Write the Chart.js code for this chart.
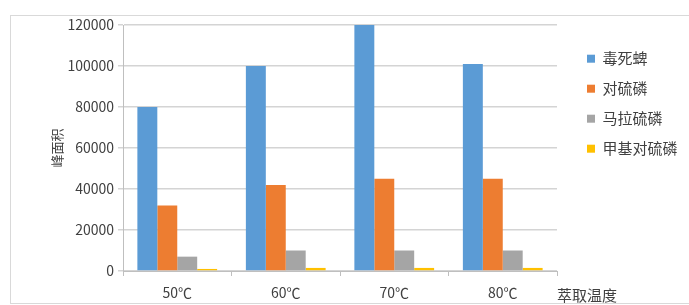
<!DOCTYPE html>
<html lang="zh">
<head>
    <meta charset="UTF-8">
    <title>萃取温度与峰面积</title>
    <script src="https://cdn.jsdelivr.net/npm/chart.js"></script>
    <style>
        body { margin: 0; background: #fff; }
        #wrap { position: relative; width: 689px; height: 305px; overflow: hidden; }
        #frame { position: absolute; left: 10px; top: 15px; width: 700px; height: 287px; border: 1px solid #d9d9d9; }
        canvas { position: absolute; left: 0; top: 0; }
    </style>
</head>
<body>
<div id="wrap">
    <div id="frame"></div>
    <canvas id="chart" width="689" height="305"></canvas>
</div>
<script>
    // data
    const temps = ['50℃', '60℃', '70℃', '80℃'];
    const seriesNames = ['毒死蜱', '对硫磷', '马拉硫磷', '甲基对硫磷'];
    const chlorpyrifos = [80000, 100000, 120000, 101000];
    const parathion = [32000, 42000, 45000, 45000];
    const malathion = [7000, 10000, 10000, 10000];
    const methylParathion = [1000, 1500, 1500, 1500];
    const colors = ['#5B9BD5', '#ED7D31', '#A5A5A5', '#FFC000'];

    const font = "'Noto Sans CJK SC', 'Noto Sans', sans-serif";
    const textColor = '#404040';
    Chart.defaults.font.family = font;
    Chart.defaults.color = textColor;

    // legend: fixed width, nudged right a bit so the boxes sit where Excel put them
    const legendFix = {
        id: 'legendFix',
        beforeInit(chart) {
            const fit = chart.legend.fit;
            chart.legend.fit = function () {
                fit.bind(chart.legend)();
                this.width = 132;
            };
        },
        afterLayout(chart) {
            chart.legend.left += 15;
            chart.legend.right += 15;
        }
    };

    // x axis title sits to the right of the axis end
    const xTitle = {
        id: 'xTitle',
        afterDraw(chart) {
            const ctx = chart.ctx;
            const area = chart.chartArea;
            ctx.save();
            ctx.font = '15px ' + font;
            ctx.fillStyle = textColor;
            ctx.textBaseline = 'middle';
            ctx.fillText('萃取温度', area.right, 295);
            ctx.restore();
        }
    };

    const sets = [chlorpyrifos, parathion, malathion, methylParathion].map((d, i) => ({
        label: seriesNames[i],
        data: d,
        backgroundColor: colors[i],
        borderWidth: 0,
        categoryPercentage: 0.735,
        barPercentage: 1
    }));

    new Chart(document.getElementById('chart'), {
        type: 'bar',
        data: { labels: temps, datasets: sets },
        plugins: [legendFix, xTitle],
        options: {
            responsive: false,
            animation: false,
            layout: { padding: { left: 30, top: 25, bottom: 4, right: 0 } },
            plugins: {
                tooltip: { enabled: false },
                legend: {
                    position: 'right',
                    align: 'start',
                    fullSize: false,
                    title: { display: true, text: '', font: { size: 1 }, padding: { top: 10, bottom: 0 } },
                    labels: { boxWidth: 8, boxHeight: 8, padding: 15, font: { size: 15 }, color: textColor }
                }
            },
            scales: {
                x: {
                    grid: { drawOnChartArea: false, drawTicks: true, tickLength: 5, color: '#bfbfbf' },
                    border: { color: '#bfbfbf' },
                    ticks: { font: { size: 14 }, padding: 8 },
                    afterFit(s) { s.height = 30; }
                },
                y: {
                    min: 0,
                    max: 120000,
                    ticks: { stepSize: 20000, font: { size: 14 }, padding: 4, callback: v => String(v) },
                    grid: { color: '#d4d4d4', lineWidth: 1.5, tickLength: 5 },
                    border: { color: '#bfbfbf' },
                    title: { display: true, text: '峰面积', font: { size: 13 }, padding: 19 },
                    afterFit(s) { s.width = 93; }
                }
            }
        }
    });
</script>
</body>
</html>
